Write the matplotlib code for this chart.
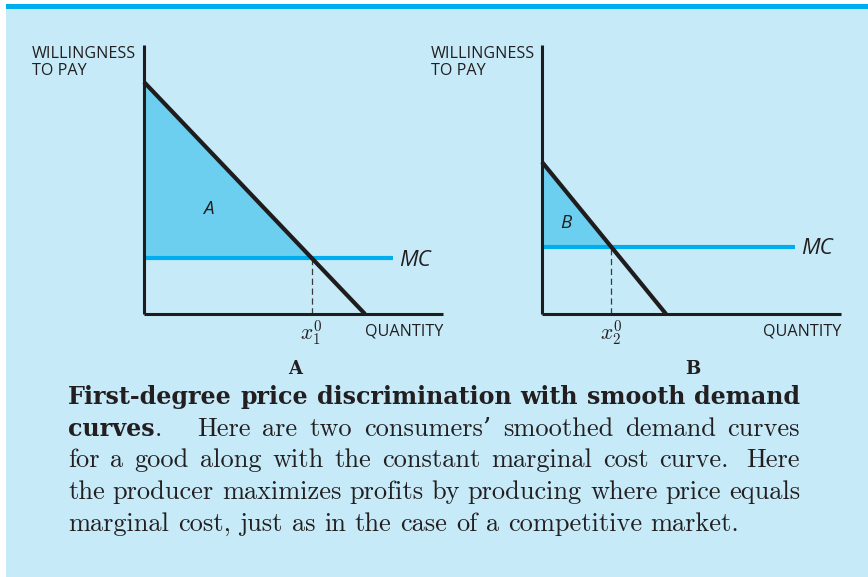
import matplotlib
matplotlib.use("Agg")
import matplotlib.pyplot as plt
from matplotlib.patches import Rectangle

# ---- data (arbitrary units) ----
panel_names = ["A", "B"]
surplus_labels = ["A", "B"]
demand_price_intercepts = [23.2, 15.2]
demand_quantity_intercepts = [22.1, 12.4]
marginal_costs = [5.6, 6.7]
mc_line_ends = [24.9, 25.3]
quantity_labels = [r"$x_1^0$", r"$x_2^0$"]
y_axis_label = ["WILLINGNESS", "TO PAY"]
x_axis_label = "QUANTITY"
cost_label = "MC"

caption_lines = [
    [[("First-degree", "b")], [("price", "b")], [("discrimination", "b")], [("with", "b")],
     [("smooth", "b")], [("demand", "b")]],
    [[("curves", "b"), (".", "r")], [("Here", "r")], [("are", "r")], [("two", "r")],
     [("consumers’", "r")], [("smoothed", "r")], [("demand", "r")], [("curves", "r")]],
    [[("for", "r")], [("a", "r")], [("good", "r")], [("along", "r")], [("with", "r")],
     [("the", "r")], [("constant", "r")], [("marginal", "r")], [("cost", "r")],
     [("curve.", "r")], [("Here", "r")]],
    [[("the", "r")], [("producer", "r")], [("maximizes", "r")], [("profits", "r")],
     [("by", "r")], [("producing", "r")], [("where", "r")], [("price", "r")],
     [("equals", "r")]],
    [[("marginal", "r")], [("cost,", "r")], [("just", "r")], [("as", "r")], [("in", "r")],
     [("the", "r")], [("case", "r")], [("of", "r")], [("a", "r")], [("competitive", "r")],
     [("market.", "r")]],
]
# wider gaps after sentence ends
gap_weights = [None, {0: 3.0}, {9: 1.6}, None, None]

# ---- style ----
BG = "#C6EAF8"
CYAN = "#00AEEF"
FILL = "#6DCFF0"
DARK = "#1E1C1D"
TXT = "#231F20"

W, H = 868, 577
fig = plt.figure(figsize=(W / 100, H / 100), dpi=100)
fig.patch.set_facecolor("white")


def fx(px):
    return px / W


def fy(py):
    return 1 - py / H


fig.add_artist(Rectangle((fx(6), 0), 1 - fx(6), fy(9), transform=fig.transFigure,
                         facecolor=BG, edgecolor="none", zorder=0))
fig.add_artist(Rectangle((fx(6), fy(9)), 1 - fx(6), 4.5 / H, transform=fig.transFigure,
                         facecolor=CYAN, edgecolor="none", zorder=0))

plt.rcParams["lines.scale_dashes"] = False

origins_x = [144, 542]
axis_top, axis_bottom = 45, 314
axis_len = 299
xmax, ymax = 29.9, 26.9
panel_label_x = [295, 693]
surplus_label_pos = [(6.4, 10.5), (2.4, 9.1)]
wtp_x = [32, 431]
SANS = ["Open Sans", "DejaVu Sans"]
LBL = 11.6

for i in range(2):
    ox = origins_x[i]
    ax = fig.add_axes([fx(ox), fy(axis_bottom), axis_len / W, (axis_bottom - axis_top) / H])
    ax.set_xlim(0, xmax)
    ax.set_ylim(0, ymax)
    ax.patch.set_alpha(0)
    for s in ("top", "right"):
        ax.spines[s].set_visible(False)
    for s in ("left", "bottom"):
        ax.spines[s].set_linewidth(2.2)
        ax.spines[s].set_color(DARK)
        ax.spines[s].set_capstyle("butt")
    ax.set_xticks([])
    ax.set_yticks([])

    p0 = demand_price_intercepts[i]
    q0 = demand_quantity_intercepts[i]
    mc = marginal_costs[i]
    x0 = q0 * (1 - mc / p0)

    ax.fill([0, 0, x0], [p0, mc, mc], color=FILL, lw=0, zorder=1)
    ax.plot([0, mc_line_ends[i]], [mc, mc], color=CYAN, lw=3.0,
            solid_capstyle="butt", zorder=2, clip_on=False)
    ax.plot([x0, x0], [0, mc], color="#3a3a3a", lw=0.9, dashes=(4.5, 2.6), zorder=2)
    ax.plot([0, q0], [p0, 0], color=DARK, lw=3.0, solid_capstyle="butt",
            zorder=3, clip_on=False)

    ax.annotate(cost_label, (mc_line_ends[i], mc), xytext=(6, -7.5), textcoords="offset pixels",
                ha="left", va="baseline", fontsize=16, style="italic",
                family=SANS, color=TXT, annotation_clip=False)
    ax.annotate(quantity_labels[i], (x0, 0), xytext=(0, -26), textcoords="offset pixels",
                ha="center", va="baseline", fontsize=15.5, math_fontfamily="cm",
                color=TXT, annotation_clip=False)
    sx, sy = surplus_label_pos[i]
    ax.text(sx, sy, surplus_labels[i], ha="center", va="center", fontsize=13.5,
            style="italic", family=SANS, color=TXT)

    ax.text(1.0, -21.5 / (axis_bottom - axis_top), x_axis_label, transform=ax.transAxes,
            ha="right", va="baseline", fontsize=LBL, family=SANS, color=TXT)

    fig.text(fx(wtp_x[i]), fy(57.5), y_axis_label[0], ha="left", va="baseline",
             fontsize=LBL, family=SANS, color=TXT)
    fig.text(fx(wtp_x[i]), fy(75), y_axis_label[1], ha="left", va="baseline",
             fontsize=LBL, family=SANS, color=TXT)

    fig.text(fx(panel_label_x[i]), fy(374), panel_names[i], ha="center", va="baseline",
             fontsize=13, family="DejaVu Serif", weight="bold", color=TXT)

# ---- caption, justified between two margins ----
CAP_SIZE = 19.0
x_left, x_right = 68, 800
renderer = fig.canvas.get_renderer()

# size the bold heading so its first line fills the measure with ordinary spaces
probe = fig.text(0, 0, " ".join(w[0][0] for w in caption_lines[0]),
                 family="DejaVu Serif", weight="bold", fontsize=20)
probe_w = probe.get_window_extent(renderer).width
probe.remove()
BOLD_SIZE = 20 * (x_right - x_left - 2) / probe_w

fonts = {"b": dict(family=["DejaVu Serif"], weight="bold", fontsize=BOLD_SIZE, color=TXT),
         "r": dict(family=["cmr10", "DejaVu Serif"], fontsize=CAP_SIZE, color=TXT)}
baselines = [404, 435.7, 467.4, 499, 530.7]
space_px = CAP_SIZE * 100 / 72 * 0.333

for li, words in enumerate(caption_lines):
    yb = fy(baselines[li])
    word_artists = []
    for word in words:
        segs = []
        for txt, f in word:
            t = fig.text(0, yb, txt, ha="left", va="baseline", **fonts[f])
            segs.append(t)
        word_artists.append(segs)
    widths = []
    for segs in word_artists:
        widths.append([s.get_window_extent(renderer).width for s in segs])
    total = sum(sum(w) for w in widths)
    weights = [1.0] * (len(words) - 1)
    if gap_weights[li]:
        for k, v in gap_weights[li].items():
            weights[k] = v
    last = li == len(caption_lines) - 1
    if last:
        gap_unit = space_px
    else:
        gap_unit = (x_right - x_left - total) / sum(weights)
    x = x_left
    for wi, segs in enumerate(word_artists):
        for s, w in zip(segs, widths[wi]):
            s.set_x(fx(x))
            x += w
        if wi < len(weights):
            x += gap_unit * weights[wi]

fig.savefig("out.png", dpi=100, facecolor=fig.get_facecolor())
